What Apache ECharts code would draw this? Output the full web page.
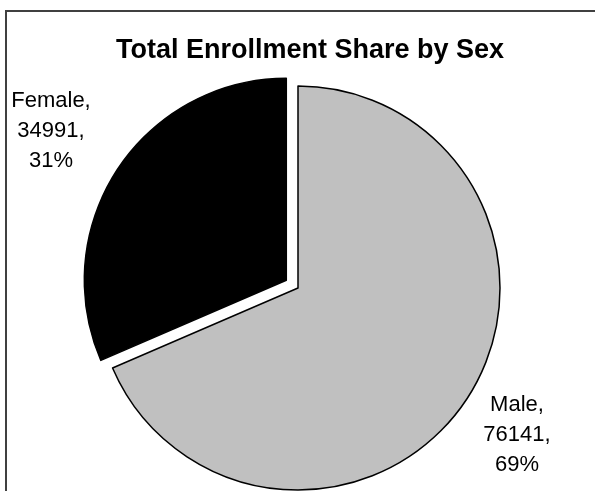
<!DOCTYPE html>
<html>
<head>
<meta charset="utf-8">
<script src="https://cdn.jsdelivr.net/npm/echarts@6/dist/echarts.min.js"></script>
<style>
  html, body { margin: 0; padding: 0; background: #fff; }
  #chart { width: 595px; height: 491px; }
</style>
</head>
<body>
<div id="chart"></div>
<script>
const categories = ["Male", "Female"];
const enrollment = [76141, 34991];
const sliceColors = ["#C0C0C0", "#000000"];

const container = document.getElementById("chart");
const chart = echarts.init(container, null, { renderer: "canvas" });

// where the two data labels sit (Excel put them outside the pie)
const labelSpots = [
  { x: 517, y: 435 },
  { x: 51, y: 131 }
];

const pieCenter = [298, 288];
const pieRadius = 202;

const options = {
  backgroundColor: "#fff",
  animation: false,
  title: {
    text: "Total Enrollment Share by Sex",
    left: 111,
    top: 32,
    textStyle: {
      fontFamily: "Liberation Sans, Arial",
      fontWeight: "bold",
      fontSize: 27,
      color: "#000"
    }
  },
  // chart area frame, cropped on the right and bottom
  graphic: [
    {
      type: "polyline",
      shape: { points: [[6, 491], [6, 11], [595, 11]] },
      style: { stroke: "#404040", lineWidth: 2, fill: null }
    }
  ],
  series: [
    {
      // the slices, Female pulled out
      type: "pie",
      center: pieCenter,
      radius: [0, pieRadius],
      startAngle: 90,
      clockwise: true,
      selectedMode: "single",
      selectedOffset: 14,
      label: { show: false },
      labelLine: { show: false },
      emphasis: { disabled: true },
      data: categories.map((name, i) => ({
        name,
        value: enrollment[i],
        selected: i === 1,
        itemStyle: {
          color: sliceColors[i],
          borderColor: "#000",
          borderWidth: 1.5
        }
      }))
    },
    {
      // same data again, only to carry the labels
      type: "pie",
      center: pieCenter,
      radius: [0, pieRadius],
      startAngle: 90,
      clockwise: true,
      silent: true,
      selectedMode: false,
      itemStyle: { color: "rgba(0,0,0,0)", borderWidth: 0 },
      label: {
        show: true,
        position: "outside",
        fontFamily: "Liberation Sans, Arial",
        fontSize: 22,
        lineHeight: 30,
        color: "#000",
        align: "center",
        overflow: "none",
        formatter(p) {
          return p.name + ",\n" + p.value + ",\n" + Math.round(p.percent) + "%";
        }
      },
      labelLine: { show: false },
      labelLayout(params) {
        const spot = labelSpots[params.dataIndex];
        return { x: spot.x, y: spot.y, align: "center", verticalAlign: "middle" };
      },
      emphasis: { disabled: true },
      data: categories.map((name, i) => ({ name, value: enrollment[i] }))
    }
  ]
};

chart.setOption(options);
</script>
</body>
</html>
